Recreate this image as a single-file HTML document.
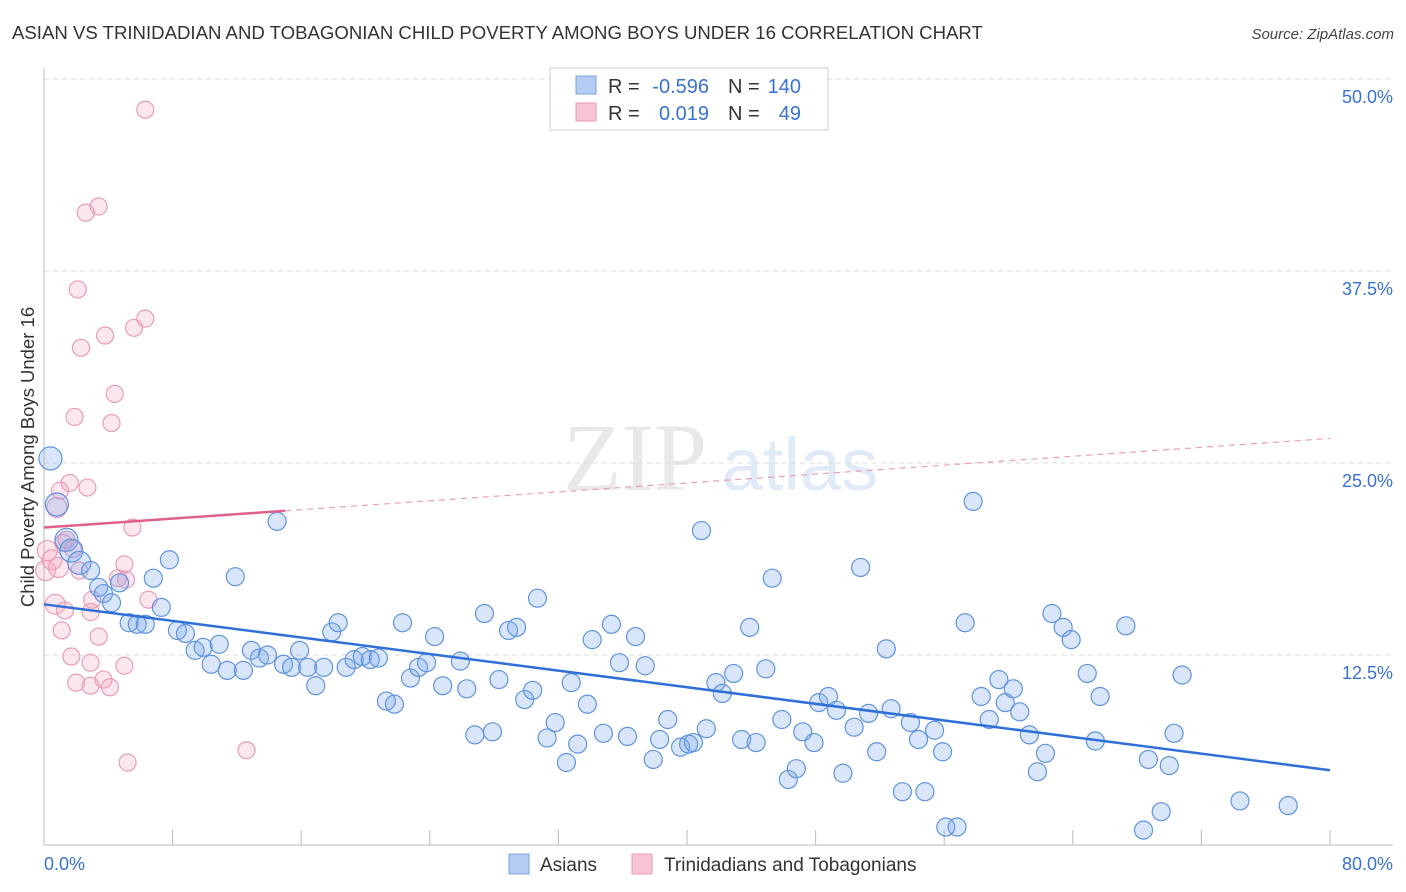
<!DOCTYPE html>
<html><head><meta charset="utf-8"><style>
body{margin:0;background:#fff;font-family:"Liberation Sans",sans-serif;}
svg{display:block}
</style></head><body>
<svg width="1406" height="892" xmlns="http://www.w3.org/2000/svg" id="chart">
<text x="12" y="39" font-size="18.6" fill="#333">ASIAN VS TRINIDADIAN AND TOBAGONIAN CHILD POVERTY AMONG BOYS UNDER 16 CORRELATION CHART</text>
<text x="1394" y="39" font-size="15" fill="#444" font-style="italic" text-anchor="end">Source: ZipAtlas.com</text>
<text transform="translate(34,457) rotate(-90)" font-size="18.5" fill="#333" text-anchor="middle">Child Poverty Among Boys Under 16</text>
<g opacity="0.22">
<text x="635" y="490" font-size="96" font-family="Liberation Serif" fill="#999" text-anchor="middle">ZIP</text>
<text x="800" y="490" font-size="74" fill="#7aa3dc" text-anchor="middle">atlas</text>
</g>
<g id="grid"></g><g id="marks"></g><g id="lines"></g>
<g font-size="20">
<rect x="550" y="68" width="278" height="62" fill="#fff" stroke="#ccc"/>
<rect x="576" y="76" width="20" height="18" fill="#b5cdf2" stroke="#7aa3dc"/>
<rect x="576" y="103" width="20" height="18" fill="#f8c4d4" stroke="#e89ab5"/>
<text x="608" y="93" fill="#333">R =</text>
<text x="709" y="93" fill="#3a72d0" text-anchor="end">-0.596</text>
<text x="728" y="93" fill="#333">N =</text>
<text x="801" y="93" fill="#3a72d0" text-anchor="end">140</text>
<text x="608" y="120" fill="#333">R =</text>
<text x="709" y="120" fill="#3a72d0" text-anchor="end">0.019</text>
<text x="728" y="120" fill="#333">N =</text>
<text x="801" y="120" fill="#3a72d0" text-anchor="end">49</text>
</g>
<g>
<rect x="509" y="854" width="20" height="20" fill="#b5cdf2" stroke="#7aa3dc"/>
<text x="540" y="871" font-size="19" fill="#333">Asians</text>
<rect x="632" y="854" width="20" height="20" fill="#f8c4d4" stroke="#e89ab5"/>
<text x="664" y="871" font-size="19" fill="#333">Trinidadians and Tobagonians</text>
</g>
</svg>
<script>
const yTicks=[12.5,25,37.5,50];
const yTickLabels=["12.5%","25.0%","37.5%","50.0%"];
const xTickLabels=["0.0%","80.0%"];
const blueX=[0.4,0.8,1.4,1.7,2.2,2.9,3.4,3.7,4.2,4.7,5.3,5.8,6.3,6.8,7.3,7.8,8.3,8.8,9.4,9.9,10.4,10.9,11.4,11.9,12.4,12.9,13.4,13.9,14.5,14.9,15.4,15.9,16.4,16.9,17.4,17.9,18.3,18.8,19.3,19.8,20.3,20.8,21.3,21.8,22.3,22.8,23.3,23.8,24.3,24.8,25.9,26.3,26.8,27.4,27.9,28.3,28.9,29.4,29.9,30.4,30.7,31.3,31.8,32.5,32.8,33.2,33.8,34.1,34.8,35.3,35.8,36.3,36.8,37.4,37.9,38.3,38.8,39.6,40.1,40.4,40.9,41.2,41.8,42.2,42.9,43.4,43.9,44.3,44.9,45.3,45.9,46.3,46.8,47.2,47.9,48.2,48.8,49.3,49.7,50.4,50.8,51.3,51.8,52.4,52.7,53.4,53.9,54.4,54.8,55.4,55.9,56.1,56.8,57.3,57.8,58.3,58.8,59.4,59.8,60.3,60.7,61.3,61.8,62.3,62.7,63.4,63.9,64.9,65.4,65.7,67.3,68.4,68.7,69.5,70.0,70.3,70.8,74.4,77.4];
const blueY=[25.3,22.3,20.0,19.3,18.5,18.0,16.9,16.5,15.9,17.2,14.6,14.5,14.5,17.5,15.6,18.7,14.1,13.9,12.8,13.0,11.9,13.2,11.5,17.6,11.5,12.8,12.3,12.5,21.2,11.9,11.7,12.8,11.7,10.5,11.7,14.0,14.6,11.7,12.2,12.4,12.2,12.3,9.5,9.3,14.6,11.0,11.7,12.0,13.7,10.5,12.1,10.3,7.3,15.2,7.5,10.9,14.1,14.3,9.6,10.2,16.2,7.1,8.1,5.5,10.7,6.7,9.3,13.5,7.4,14.5,12.0,7.2,13.7,11.8,5.7,7.0,8.3,6.5,6.7,6.8,20.6,7.7,10.7,10.0,11.3,7.0,14.3,6.8,11.6,17.5,8.3,4.4,5.1,7.5,6.8,9.4,9.8,8.9,4.8,7.8,18.2,8.7,6.2,12.9,9.0,3.6,8.1,7.0,3.6,7.6,6.2,1.3,1.3,14.6,22.5,9.8,8.3,10.9,9.4,10.3,8.8,7.3,4.9,6.1,15.2,14.3,13.5,11.3,6.9,9.8,14.4,1.1,5.7,2.3,5.3,7.4,11.2,3.0,2.7];
const pinkX=[6.3,3.4,2.6,2.1,6.3,5.6,3.8,2.3,4.4,1.9,4.2,2.7,1.6,1.0,0.8,5.5,1.2,1.8,1.4,0.2,0.5,0.1,0.9,2.2,5.0,4.6,5.1,3.0,0.7,1.3,2.9,6.5,1.1,3.4,1.7,2.9,5.0,2.0,2.9,3.7,4.1,12.6,5.2];
const pinkY=[48.0,41.7,41.3,36.3,34.4,33.8,33.3,32.5,29.5,28.0,27.6,23.4,23.7,23.2,22.1,20.8,19.8,19.4,20.0,19.3,18.7,18.0,18.2,18.0,18.4,17.5,17.4,16.1,15.8,15.4,15.3,16.1,14.1,13.7,12.4,12.0,11.8,10.7,10.5,10.9,10.4,6.3,5.5];
const blueTrend=[15.8,5.0];
const pinkTrend=[20.8,26.6];
const pinkSolidEnd=15.0;
const NS="http://www.w3.org/2000/svg";
const xS=v=>44+v/80*1286;
const yS=v=>847-v/12.5*192;
function mk(t,a,p){const e=document.createElementNS(NS,t);for(const k in a)e.setAttribute(k,a[k]);p.appendChild(e);return e;}
const grid=document.getElementById('grid'),marks=document.getElementById('marks'),lines=document.getElementById('lines');
yTicks.forEach((t,i)=>{
 const l=mk('line',{x1:44,x2:1393,y1:yS(t),y2:yS(t),stroke:'#ddd','stroke-dasharray':'5,4'},grid);
 
 
 const tx=mk('text',{x:1393,y:yS(t)+24,'font-size':18,fill:'#3a72d0','text-anchor':'end'},grid);
 tx.textContent=yTickLabels[i];
 
 
});
const ax=mk('line',{x1:44,x2:1393,y1:845,y2:845,stroke:'#bbb'},grid);


const ay=mk('line',{x1:44,x2:44,y1:68,y2:845,stroke:'#bbb'},grid);


for(let v=8;v<=80;v+=8){
 const tk=mk('line',{x1:xS(v),x2:xS(v),y1:830,y2:845,stroke:'#bbb'},grid);
 
 
}
[[0,'start',44],[80,'end',1393]].forEach((d,i)=>{
 const tx=mk('text',{x:d[2],y:870,'font-size':18,fill:'#3a72d0','text-anchor':d[1]},grid);
 tx.textContent=xTickLabels[i];
 
 
});
pinkX.forEach((x,i)=>{
 const c=mk('circle',{cx:xS(x),cy:yS(pinkY[i]),r:x<1.0?10:8.5,fill:'rgba(244,160,188,0.25)',stroke:'#ea9cb7','stroke-width':1.2},marks);
 
 
});
blueX.forEach((x,i)=>{
 const c=mk('circle',{cx:xS(x),cy:yS(blueY[i]),r:x<2.5?11.5:9,fill:'rgba(120,165,235,0.28)',stroke:'#5f93df','stroke-width':1.2},marks);
 
 
});
const pt=v=>pinkTrend[0]+(pinkTrend[1]-pinkTrend[0])*v/80;
const l1=mk('line',{x1:xS(0),y1:yS(blueTrend[0]),x2:xS(80),y2:yS(blueTrend[1]),stroke:'#2f6fd8','stroke-width':2.5},lines);


const l2=mk('line',{x1:xS(0),y1:yS(pt(0)),x2:xS(pinkSolidEnd),y2:yS(pt(pinkSolidEnd)),stroke:'#e0608c','stroke-width':2.5},lines);


const l3=mk('line',{x1:xS(pinkSolidEnd),y1:yS(pt(pinkSolidEnd)),x2:xS(80),y2:yS(pt(80)),stroke:'#e8a0b8','stroke-width':1.2,'stroke-dasharray':'6,5'},lines);


</script>
</body></html>
